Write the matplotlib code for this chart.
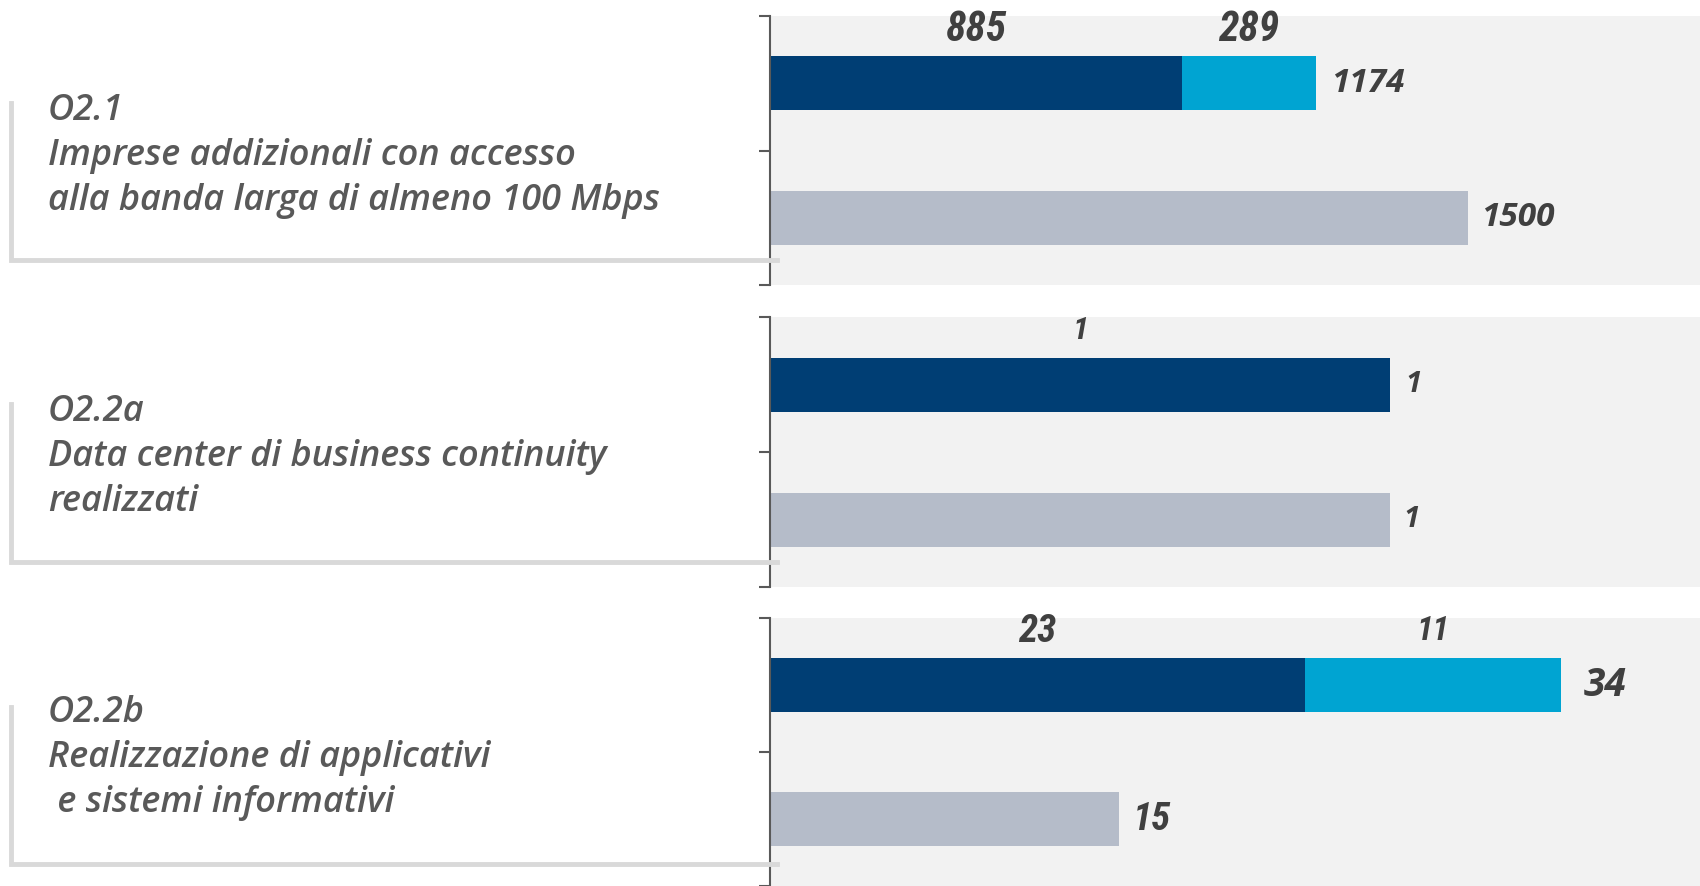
import matplotlib
matplotlib.use("Agg")
import matplotlib.pyplot as plt
from matplotlib import font_manager
from matplotlib.lines import Line2D

codici = ["O2.1", "O2.2a", "O2.2b"]
descrizioni = [
    ["Imprese addizionali con accesso", "alla banda larga di almeno 100 Mbps"],
    ["Data center di business continuity", "realizzati"],
    ["Realizzazione di applicativi", " e sistemi informativi"],
]
realizzato = [885, 1, 23]
aggiuntivo = [289, 0, 11]
target = [1500, 1, 15]
xmax = [2000, 1.5, 40]

C_DARK = "#003e74"
C_CYAN = "#00a4d2"
C_GRAY = "#b5bcc9"
C_BG = "#f2f2f2"
C_TXT = "#404040"
C_LBL = "#595959"
C_BOX = "#d9d9d9"

names = {f.name for f in font_manager.fontManager.ttflist}
num_font = next((n for n in ["Liberation Sans Narrow", "Roboto Condensed",
                             "Open Sans Condensed"] if n in names), "Open Sans")

W, H = 1700, 886
fig = plt.figure(figsize=(W / 100, H / 100), dpi=100)

# panel positions in pixels (top, bottom)
panels = [(16, 285), (317, 587), (618, 886)]
ax_left = 770
seg_fs = [30, 23, 28]
seg2_fs = [30, 23, 24]
tot_fs = [24, 21, 28]
tgt_fs = [24, 21, 28]
tot_off = [11, 11, 17]

for i, (top, bot) in enumerate(panels):
    ax = fig.add_axes([ax_left / W, 1 - bot / H, (W - ax_left) / W, (bot - top) / H])
    ax.set_facecolor(C_BG)
    ax.set_xlim(0, xmax[i])
    ax.set_ylim(2, 0)
    for s in ["top", "right", "bottom"]:
        ax.spines[s].set_visible(False)
    ax.spines["left"].set_color(C_LBL)
    ax.spines["left"].set_linewidth(1.5)
    ax.set_yticks([0, 1, 2])
    ax.set_yticklabels([])
    ax.set_xticks([])
    ax.tick_params(axis="y", length=8, width=1.5, color=C_LBL)

    ax.barh(0.5, realizzato[i], height=0.4, color=C_DARK)
    ax.barh(0.5, aggiuntivo[i], left=realizzato[i], height=0.4, color=C_CYAN)
    ax.barh(1.5, target[i], height=0.4, color=C_GRAY)

    ax.text(realizzato[i] / 2, 0.1, str(realizzato[i]), ha="center", va="center",
            fontsize=seg_fs[i], fontweight="bold", style="italic", color=C_TXT,
            family=num_font)
    if aggiuntivo[i] > 0:
        ax.text(realizzato[i] + aggiuntivo[i] / 2, 0.1, str(aggiuntivo[i]),
                ha="center", va="center", fontsize=seg2_fs[i],
                fontweight="bold", style="italic", color=C_TXT, family=num_font)
    tot = realizzato[i] + aggiuntivo[i]
    ax.annotate(str(tot), (tot, 0.5), xytext=(tot_off[i], 0), textcoords="offset points",
                ha="left", va="center", fontsize=tot_fs[i],
                fontweight="bold", style="italic", color=C_TXT, family="Open Sans")
    ax.annotate(str(target[i]), (target[i], 1.5), xytext=(10, 0), textcoords="offset points",
                ha="left", va="center", fontsize=tgt_fs[i], fontweight="bold", style="italic",
                color=C_TXT, family=num_font if i == 2 else "Open Sans")

# left label boxes
box_top = [103, 404, 707]
box_bot = [260, 562, 864]
text_y = [111, 412, 713]
for i in range(3):
    x0 = 11 / W
    fig.add_artist(Line2D([x0, x0, 777 / W], [1 - box_top[i] / H, 1 - box_bot[i] / H,
                                             1 - box_bot[i] / H],
                          transform=fig.transFigure, color=C_BOX, lw=3.5,
                          solid_joinstyle="miter"))
    lines = [codici[i]] + descrizioni[i]
    for j, t in enumerate(lines):
        fig.text(48 / W, 1 - (text_y[i] + 45 * j) / H, t, ha="left", va="center",
                 fontsize=26, fontweight="semibold", style="italic", color=C_LBL,
                 family="Open Sans")

fig.savefig("out.png", dpi=100)
